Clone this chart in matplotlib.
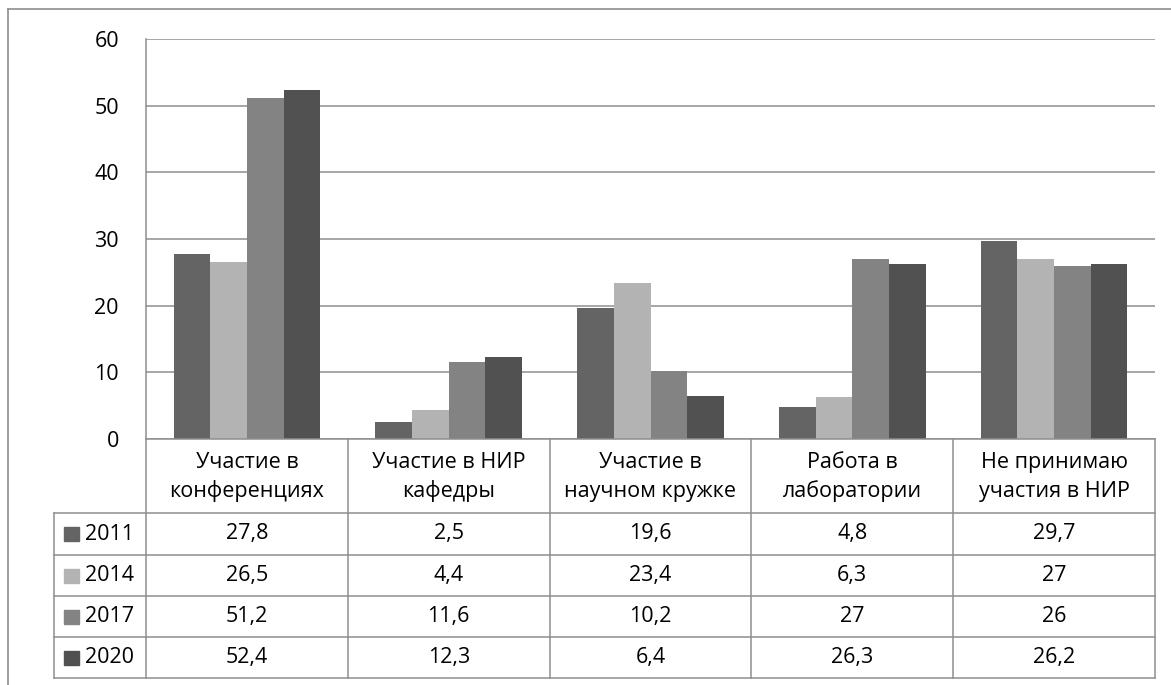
import matplotlib
matplotlib.use("Agg")
import matplotlib.pyplot as plt
from matplotlib.patches import Rectangle
import numpy as np

plt.rcParams['font.family'] = ['Open Sans', 'DejaVu Sans']

categories = ["Участие в\nконференциях", "Участие в НИР\nкафедры",
              "Участие в\nнаучном кружке", "Работа в\nлаборатории",
              "Не принимаю\nучастия в НИР"]
years = ["2011", "2014", "2017", "2020"]
v2011 = [27.8, 2.5, 19.6, 4.8, 29.7]
v2014 = [26.5, 4.4, 23.4, 6.3, 27]
v2017 = [51.2, 11.6, 10.2, 27, 26]
v2020 = [52.4, 12.3, 6.4, 26.3, 26.2]
series = [v2011, v2014, v2017, v2020]
colors = ["#646464", "#b3b3b3", "#838383", "#515151"]
yticks = [0, 10, 20, 30, 40, 50, 60]

W, H = 1171, 685
fig = plt.figure(figsize=(W / 100, H / 100), dpi=100)
grid_c = "#8e8e8e"
FS = 15.5

# plot area in pixel coordinates
px_l, px_r, px_t, px_b = 146, 1155, 39, 439
ax = fig.add_axes([px_l / W, 1 - px_b / H, (px_r - px_l) / W, (px_b - px_t) / H])
n = len(categories)
x = np.arange(n)
bw = 1 / 5.5
for i, (vals, c) in enumerate(zip(series, colors)):
    ax.bar(x + (i - 1.5) * bw, vals, width=bw, color=c, edgecolor="none", zorder=3)
ax.set_xlim(-0.5, n - 0.5)
ax.set_ylim(0, 60)
ax.set_yticks(yticks)
ax.set_yticklabels([str(t) for t in yticks], fontsize=FS)
ax.tick_params(axis="y", length=0, pad=19.5)
ax.set_xticks([])
ax.yaxis.grid(True, color=grid_c, lw=1.1, zorder=0)
for s in ["top", "right", "bottom"]:
    ax.spines[s].set_visible(False)
ax.spines["left"].set_color(grid_c)
ax.spines["left"].set_linewidth(1.1)

# overlay in pixel coordinates for the frame and the data table
ov = fig.add_axes([0, 0, 1, 1], zorder=5)
ov.set_xlim(0, W)
ov.set_ylim(H, 0)
ov.axis("off")
ov.patch.set_alpha(0)

# outer chart frame (top and left edges)
ov.plot([8, W + 5], [9, 9], color=grid_c, lw=1.2)
ov.plot([8, 8], [9, H + 5], color=grid_c, lw=1.2)

col_edges = np.linspace(px_l, px_r, n + 1)
row_edges = [439, 513, 555, 596, 637, 678]
leg_l = 54

ov.plot([px_l, px_r], [row_edges[0], row_edges[0]], color=grid_c, lw=1.1)
for y in row_edges[1:]:
    ov.plot([leg_l, px_r], [y, y], color=grid_c, lw=1.1)
for xe in col_edges:
    ov.plot([xe, xe], [row_edges[0], row_edges[-1]], color=grid_c, lw=1.1)
ov.plot([leg_l, leg_l], [row_edges[1], row_edges[-1]], color=grid_c, lw=1.1)

# category header cells
for j, cat in enumerate(categories):
    cx = (col_edges[j] + col_edges[j + 1]) / 2
    cy = (row_edges[0] + row_edges[1]) / 2
    ov.text(cx, cy + 1, cat, ha="center", va="center", fontsize=FS,
            linespacing=1.45)

# value rows with legend keys
for i, (yr, vals, c) in enumerate(zip(years, series, colors)):
    cy = (row_edges[i + 1] + row_edges[i + 2]) / 2
    ov.add_patch(Rectangle((64, cy - 7), 15, 14, color=c))
    ov.text(85, cy, yr, ha="left", va="center", fontsize=FS)
    for j, v in enumerate(vals):
        cx = (col_edges[j] + col_edges[j + 1]) / 2
        ov.text(cx, cy, f"{v:g}".replace(".", ","), ha="center", va="center",
                fontsize=FS)

fig.savefig("out.png", dpi=100)
